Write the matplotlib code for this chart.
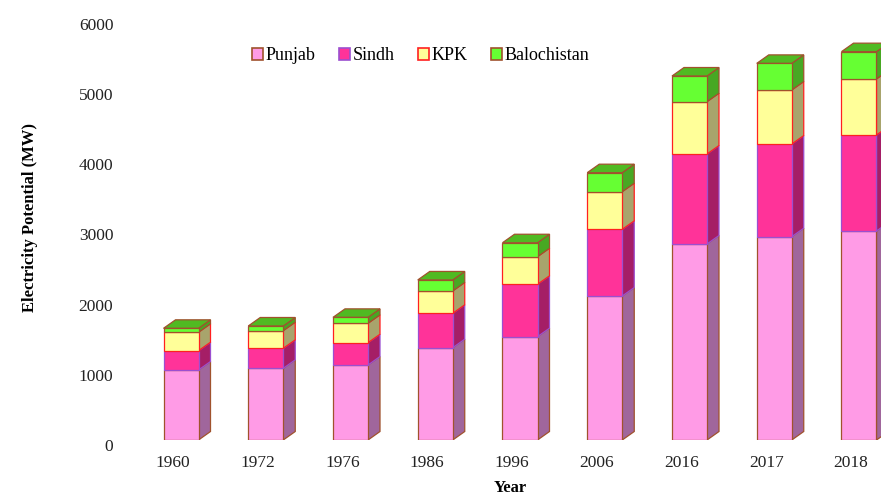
import numpy as np
import matplotlib
matplotlib.use('Agg')
import matplotlib.pyplot as plt
from matplotlib.patches import Polygon, Patch
from matplotlib.transforms import ScaledTranslation

# data (MW)
years = ['1960', '1972', '1976', '1986', '1996', '2006', '2016', '2017', '2018']
punjab = [997, 1021, 1068, 1315, 1472, 2051, 2792, 2896, 2977]
sindh = [275, 285, 318, 490, 746, 950, 1282, 1320, 1368]
kpk = [262, 251, 276, 318, 393, 536, 745, 769, 798]
balochistan = [57, 67, 85, 157, 199, 271, 366, 380, 389]

provinces = ['Punjab', 'Sindh', 'KPK', 'Balochistan']
series = [punjab, sindh, kpk, balochistan]
front_colors = ['#FF9BE6', '#FF3399', '#FFFF99', '#66FF33']
side_colors = ['#A0669C', '#A51E66', '#A8A46C', '#47A823']
edge_colors = ['#A0522D', '#9B4FD0', '#FF2020', '#A0522D']
top_color = '#50BA22'

plt.rcParams['font.family'] = ['Liberation Serif', 'DejaVu Serif']

fig = plt.figure(figsize=(8.81, 4.97), dpi=100)
ax = fig.add_axes([130 / 881, 57 / 497, 751 / 881, 421.2 / 497])

x = np.arange(len(years))
width = 0.413
ddx = 0.1416   # fake depth, x direction (data units)
ddy = 121      # fake depth, y direction (MW)

bottom = np.zeros(len(years))
for k, vals in enumerate(series):
    vals = np.array(vals, dtype=float)
    ax.bar(x, vals, bottom=bottom, width=width, color=front_colors[k],
           edgecolor=edge_colors[k], linewidth=0.9, zorder=3)
    for i in range(len(years)):
        xr = x[i] + width / 2
        b = bottom[i]
        t = bottom[i] + vals[i]
        side = Polygon([(xr, b), (xr + ddx, b + ddy), (xr + ddx, t + ddy), (xr, t)],
                       closed=True, facecolor=side_colors[k], edgecolor=edge_colors[k],
                       linewidth=0.9, zorder=2)
        ax.add_patch(side)
        if k == len(series) - 1:
            xl = x[i] - width / 2
            top = Polygon([(xl, t), (xr, t), (xr + ddx, t + ddy), (xl + ddx, t + ddy)],
                          closed=True, facecolor=top_color, edgecolor=edge_colors[k],
                          linewidth=0.9, zorder=2)
            ax.add_patch(top)
    bottom = bottom + vals

ax.set_xlim(-0.6018, 8.2596)
ax.set_ylim(0, 6000)
for s in ax.spines.values():
    s.set_visible(False)

ax.set_yticks(range(0, 6001, 1000))
ax.set_xticks(x)
ax.set_xticklabels(years)
ax.tick_params(axis='y', length=0, pad=12, labelsize=12.5, colors='#222222')
ax.tick_params(axis='x', length=0, pad=11, labelsize=12.5, colors='#222222')

# nudge tick labels like the reference does
dy_off = ScaledTranslation(0, -5 / 100, fig.dpi_scale_trans)
for lab in ax.get_yticklabels():
    lab.set_transform(lab.get_transform() + dy_off)
dx_off = ScaledTranslation(-8 / 100, 0, fig.dpi_scale_trans)
for lab in ax.get_xticklabels():
    lab.set_transform(lab.get_transform() + dx_off)

fig.text(30 / 881, 1 - 217 / 497, 'Electricity Potential (MW)', rotation=90,
         ha='center', va='center', fontsize=12, fontweight='bold')
fig.text(510 / 881, 1 - 488 / 497, 'Year', ha='center', va='center',
         fontsize=12, fontweight='bold')

handles = [Patch(facecolor=front_colors[k], edgecolor=edge_colors[k], linewidth=1.2)
           for k in range(len(provinces))]
fig.legend(handles, provinces, loc='center', bbox_to_anchor=(421 / 881, 1 - 56 / 497),
           ncol=4, frameon=False, fontsize=13, handlelength=0.6, handleheight=0.6,
           handletextpad=0.15, columnspacing=1.3)

plt.savefig('out.png', dpi=100)
